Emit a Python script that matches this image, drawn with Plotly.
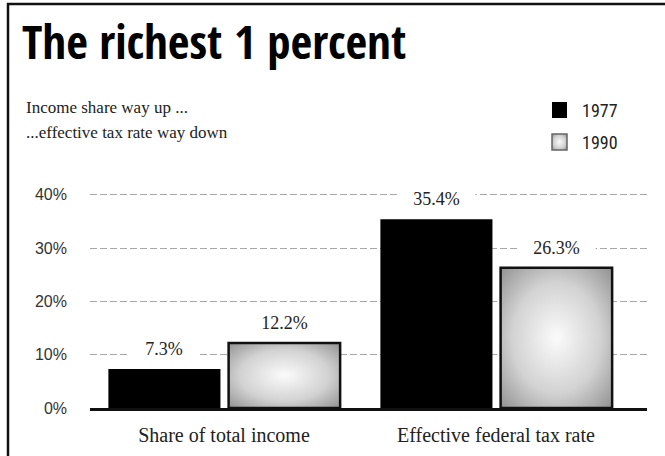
import base64
import plotly.graph_objects as go

# ---- data ----
categories = ["Share of total income", "Effective federal tax rate"]
years = ["1977", "1990"]
values_1977 = [7.3, 35.4]
values_1990 = [12.2, 26.3]
y_ticks = [0, 10, 20, 30, 40]
y_ticktext = ["0%", "10%", "20%", "30%", "40%"]

# ---- bar geometry (data units along a numeric x axis) ----
x_pos = [0, 1]
off_1977, w_1977 = -0.425, 0.412
off_1990, w_1990 = 0.017, 0.41

# ---- page geometry ----
W, H = 665, 456
ML, MR, MT, MB = 90, 18, 184, 48
PW, PH = W - ML - MR, H - MT - MB


def px_to_paper_x(px):
    return (px - ML) / PW


def px_to_paper_y(py):
    return (H - MB - py) / PH


SERIF = "Liberation Serif, DejaVu Serif, serif"
SANS = "Liberation Sans, Arial, sans-serif"
TITLE_FONT = "Open Sans Condensed, Roboto Condensed, Liberation Sans, sans-serif"
NARROW = "Roboto Condensed, Liberation Sans, sans-serif"

fig = go.Figure()

fig.add_trace(go.Bar(
    x=x_pos, y=values_1977, offset=off_1977, width=w_1977, name=years[0],
    marker=dict(color="#000000", line=dict(width=0)),
    showlegend=False, hoverinfo="skip",
))
fig.add_trace(go.Bar(
    x=x_pos, y=values_1990, offset=off_1990, width=w_1990, name=years[1],
    marker=dict(color="#d0d0d0", line=dict(width=0)),
    showlegend=False, hoverinfo="skip",
))

# radial-shaded fill for the 1990 bars
svg = (
    "<svg xmlns='http://www.w3.org/2000/svg' width='100' height='100' "
    "viewBox='0 0 100 100' preserveAspectRatio='none'>"
    "<defs><radialGradient id='g' cx='50%' cy='50%' r='72%'>"
    "<stop offset='0' stop-color='#fbfbfb'/>"
    "<stop offset='0.55' stop-color='#d2d2d2'/>"
    "<stop offset='1' stop-color='#8e8e8e'/>"
    "</radialGradient></defs>"
    "<rect x='0' y='0' width='100' height='100' fill='url(#g)'/></svg>"
)
svg_uri = "data:image/svg+xml;base64," + base64.b64encode(svg.encode()).decode()

images = []
shapes = []
for x, v in zip(x_pos, values_1990):
    x0 = x + off_1990
    images.append(dict(
        source=svg_uri, xref="x", yref="y", x=x0, y=v,
        sizex=w_1990, sizey=v, sizing="stretch",
        xanchor="left", yanchor="top", layer="above",
    ))
    shapes.append(dict(
        type="rect", xref="x", yref="y", x0=x0, x1=x0 + w_1990, y0=0, y1=v,
        line=dict(color="#111111", width=2.5), fillcolor="rgba(0,0,0,0)",
        layer="above",
    ))

# outer frame: top and left edges, kept inside the page
frame = dict(color="#111111", width=2.5)
shapes.append(dict(
    type="line", xref="paper", yref="paper",
    x0=px_to_paper_x(7), x1=px_to_paper_x(W),
    y0=px_to_paper_y(4), y1=px_to_paper_y(4), line=frame, layer="above",
))
shapes.append(dict(
    type="line", xref="paper", yref="paper",
    x0=px_to_paper_x(8), x1=px_to_paper_x(8),
    y0=px_to_paper_y(3), y1=px_to_paper_y(H), line=frame, layer="above",
))

# value labels above bars (white box breaks the gridline behind the text)
annotations = []
for offs, wid, vals in [(off_1977, w_1977, values_1977), (off_1990, w_1990, values_1990)]:
    for x, v in zip(x_pos, vals):
        label = f"{v:.1f}%"
        annotations.append(dict(
            x=x + offs + wid / 2, y=v, xref="x", yref="y",
            text=label, showarrow=False, yshift=20,
            font=dict(family=SERIF, size=18, color="#222222"),
            bgcolor="#ffffff", borderpad=1, width=9 * len(label) + 30,
        ))

# subtitle lines
for line_text, cy in [("Income share way up ...", 107), ("...effective tax rate way down", 132)]:
    annotations.append(dict(
        x=px_to_paper_x(24), y=px_to_paper_y(cy), xref="paper", yref="paper",
        text=line_text, showarrow=False, xanchor="left",
        yanchor="middle", font=dict(family=SERIF, size=17, color="#222222"),
    ))

# key: swatch + year label, top right
key_rows = [(years[0], 110, "solid"), (years[1], 142, "shaded")]
for name, cy, style in key_rows:
    sx0, sx1 = 552, 567
    sy0, sy1 = cy - 8, cy + 8
    if style == "solid":
        shapes.append(dict(
            type="rect", xref="paper", yref="paper",
            x0=px_to_paper_x(sx0), x1=px_to_paper_x(sx1),
            y0=px_to_paper_y(sy1), y1=px_to_paper_y(sy0),
            fillcolor="#000000", line=dict(width=0), layer="above",
        ))
    else:
        images.append(dict(
            source=svg_uri, xref="paper", yref="paper",
            x=px_to_paper_x(sx0), y=px_to_paper_y(sy0),
            sizex=(sx1 - sx0) / PW, sizey=(sy1 - sy0) / PH, sizing="stretch",
            xanchor="left", yanchor="top", layer="above",
        ))
        shapes.append(dict(
            type="rect", xref="paper", yref="paper",
            x0=px_to_paper_x(sx0), x1=px_to_paper_x(sx1),
            y0=px_to_paper_y(sy1), y1=px_to_paper_y(sy0),
            fillcolor="rgba(0,0,0,0)", line=dict(color="#666666", width=1.5),
            layer="above",
        ))
    annotations.append(dict(
        x=px_to_paper_x(580), y=px_to_paper_y(cy), xref="paper", yref="paper",
        text=name, showarrow=False, xanchor="left", yanchor="middle",
        font=dict(family=NARROW, size=18, color="#222222"),
    ))

fig.update_layout(
    width=W, height=H,
    margin=dict(l=ML, r=MR, t=MT, b=MB, autoexpand=False),
    paper_bgcolor="#ffffff", plot_bgcolor="#ffffff",
    title=dict(
        text="<b>The richest 1 percent</b>",
        x=22 / W, xanchor="left", xref="container",
        y=1 - 43 / H, yanchor="middle", yref="container",
        font=dict(family=TITLE_FONT, size=47, color="#000000"),
    ),
    barmode="overlay",
    showlegend=False,
    xaxis=dict(
        range=[-0.4926, -0.4926 + PW / 272],
        tickvals=x_pos, ticktext=categories,
        tickfont=dict(family=SERIF, size=20, color="#222222"),
        showgrid=False, zeroline=False,
        showline=True, linecolor="#111111", linewidth=2.5,
        ticks="", ticklabelstandoff=7,
    ),
    yaxis=dict(
        range=[0, 42], tickvals=y_ticks, ticktext=y_ticktext,
        tickfont=dict(family=SANS, size=16, color="#333333"),
        showgrid=True, gridcolor="#a8a8a8", gridwidth=1, griddash="7px,3px",
        zeroline=False, showline=False, ticks="", ticklabelstandoff=22,
    ),
    images=images,
    shapes=shapes,
    annotations=annotations,
)

fig.write_html("out.html", config={"displayModeBar": False})
